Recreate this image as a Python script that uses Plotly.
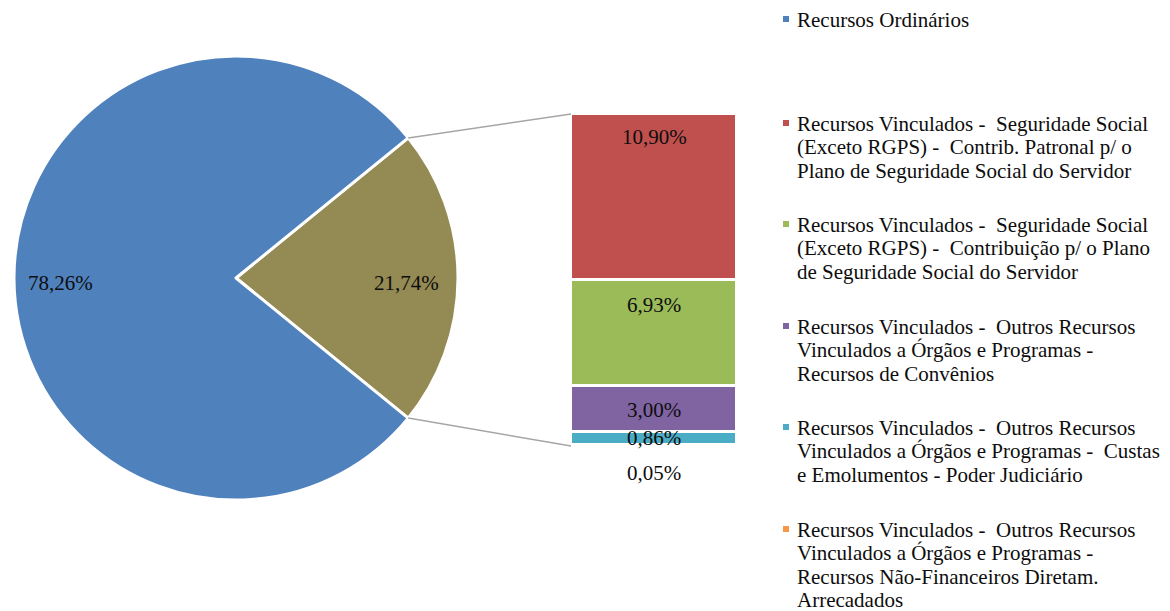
import plotly.graph_objects as go
import math

# ---------------- data ----------------
pie_labels = ["Recursos Vinculados", "Recursos Ordinários"]
pie_values = [21.74, 78.26]
pie_colors = ["#948A54", "#4F81BD"]

bar_labels = [
    "Recursos Vinculados -  Seguridade Social<br>(Exceto RGPS) -  Contrib. Patronal p/ o<br>Plano de Seguridade Social do Servidor",
    "Recursos Vinculados -  Seguridade Social<br>(Exceto RGPS) -  Contribuição p/ o Plano<br>de Seguridade Social do Servidor",
    "Recursos Vinculados -  Outros Recursos<br>Vinculados a Órgãos e Programas -<br>Recursos de Convênios",
    "Recursos Vinculados -  Outros Recursos<br>Vinculados a Órgãos e Programas -  Custas<br>e Emolumentos - Poder Judiciário",
    "Recursos Vinculados -  Outros Recursos<br>Vinculados a Órgãos e Programas -<br>Recursos Não-Financeiros Diretam.<br>Arrecadados",
]
bar_values = [10.90, 6.93, 3.00, 0.86, 0.05]
bar_colors = ["#C0504D", "#9BBB59", "#8064A2", "#4BACC6", "#F79646"]
# label offset below each segment's top edge (px) - styling only
bar_label_shift = [23, 25, 24, 6, 28]

legend_names = ["Recursos Ordinários"] + bar_labels
legend_colors = [pie_colors[1]] + bar_colors

# ---------------- layout geometry (px, page is offset by 8px body margin) ----------------
OFF = 8
W, H = 1170, 611
cx, cy, r = 236 - OFF, 278 - OFF, 222          # pie centre / radius
bx0, bx1, by_top, by_bot = 571 - OFF, 737 - OFF, 114 - OFF, 446 - OFF   # bar box
leg_marker_x = 786 - OFF
leg_text_x = 795 - OFF
leg_first_y = [y - OFF for y in (20, 124, 225, 327, 428, 530)]
leg_line_h = 23.4
FONT = "Liberation Serif"
FS = 21
TXT = "#0d0d0d"

def fmt(v):
    return f"{v:.2f}%".replace(".", ",")

def px(x):
    return x / W

def py(y):
    return (H - y) / H

fig = go.Figure()

half = pie_values[0] / 100 * 360 / 2
fig.add_trace(go.Pie(
    labels=pie_labels, values=pie_values, sort=False,
    direction="clockwise", rotation=90 - half,
    marker=dict(colors=pie_colors, line=dict(color="white", width=3)),
    textinfo="none", hoverinfo="label+percent", showlegend=False,
    domain=dict(x=[px(cx - r), px(cx + r)], y=[py(cy + r), py(cy - r)]),
))

# stacked bar (bottom -> top is reverse of list order)
total = sum(bar_values)
for i in list(range(len(bar_values)))[::-1]:
    fig.add_trace(go.Bar(
        x=[0], y=[bar_values[i]], width=1,
        marker=dict(color=bar_colors[i], line=dict(color="white", width=3)),
        showlegend=False, hovertemplate=fmt(bar_values[i]) + "<extra></extra>",
    ))

annotations = []
shapes = []
tfont = dict(family=FONT, size=FS, color=TXT)

# pie labels
annotations.append(dict(xref="paper", yref="paper", xanchor="center", yanchor="middle",
                        x=px(cx - 0.79 * r), y=py(cy + 5),
                        text=fmt(pie_values[1]), showarrow=False, font=tfont))
annotations.append(dict(xref="paper", yref="paper", xanchor="center", yanchor="middle",
                        x=px(cx + 0.77 * r), y=py(cy + 5),
                        text=fmt(pie_values[0]), showarrow=False, font=tfont))
# bar labels
top = total
for i, v in enumerate(bar_values):
    annotations.append(dict(xref="x", yref="y", x=0, y=top, yshift=-bar_label_shift[i],
                            text=fmt(v), showarrow=False, xanchor="center", yanchor="middle",
                            font=tfont))
    top -= v

# connector lines
vx = cx + r * math.cos(math.radians(half))
vyt = cy - r * math.sin(math.radians(half))
vyb = cy + r * math.sin(math.radians(half))
for vy, by in ((vyt, by_top), (vyb, by_bot)):
    shapes.append(dict(type="line", xref="paper", yref="paper",
                       x0=px(vx), y0=py(vy), x1=px(bx0), y1=py(by),
                       line=dict(color="#A6A6A6", width=1.5)))

# legend (marker squares + text lines)
for name, col, y0 in zip(legend_names, legend_colors, leg_first_y):
    shapes.append(dict(type="rect", xref="paper", yref="paper",
                       x0=px(leg_marker_x - 3), x1=px(leg_marker_x + 3),
                       y0=py(y0 + 2), y1=py(y0 - 4),
                       fillcolor=col, line=dict(width=0)))
    for k, line in enumerate(name.split("<br>")):
        annotations.append(dict(xref="paper", yref="paper", xanchor="left", yanchor="middle",
                                x=px(leg_text_x), y=py(y0 + k * leg_line_h),
                                text=line, showarrow=False, font=tfont))

fig.update_layout(
    width=W, height=H, margin=dict(l=0, r=0, t=0, b=0),
    paper_bgcolor="white", plot_bgcolor="white",
    barmode="stack", bargap=0, showlegend=False,
    xaxis=dict(domain=[px(bx0), px(bx1)], range=[-0.5, 0.5], visible=False),
    yaxis=dict(domain=[py(by_bot), py(by_top)], range=[0, total], visible=False),
    annotations=annotations, shapes=shapes,
    font=dict(family=FONT),
)

fig.write_html("out.html")
